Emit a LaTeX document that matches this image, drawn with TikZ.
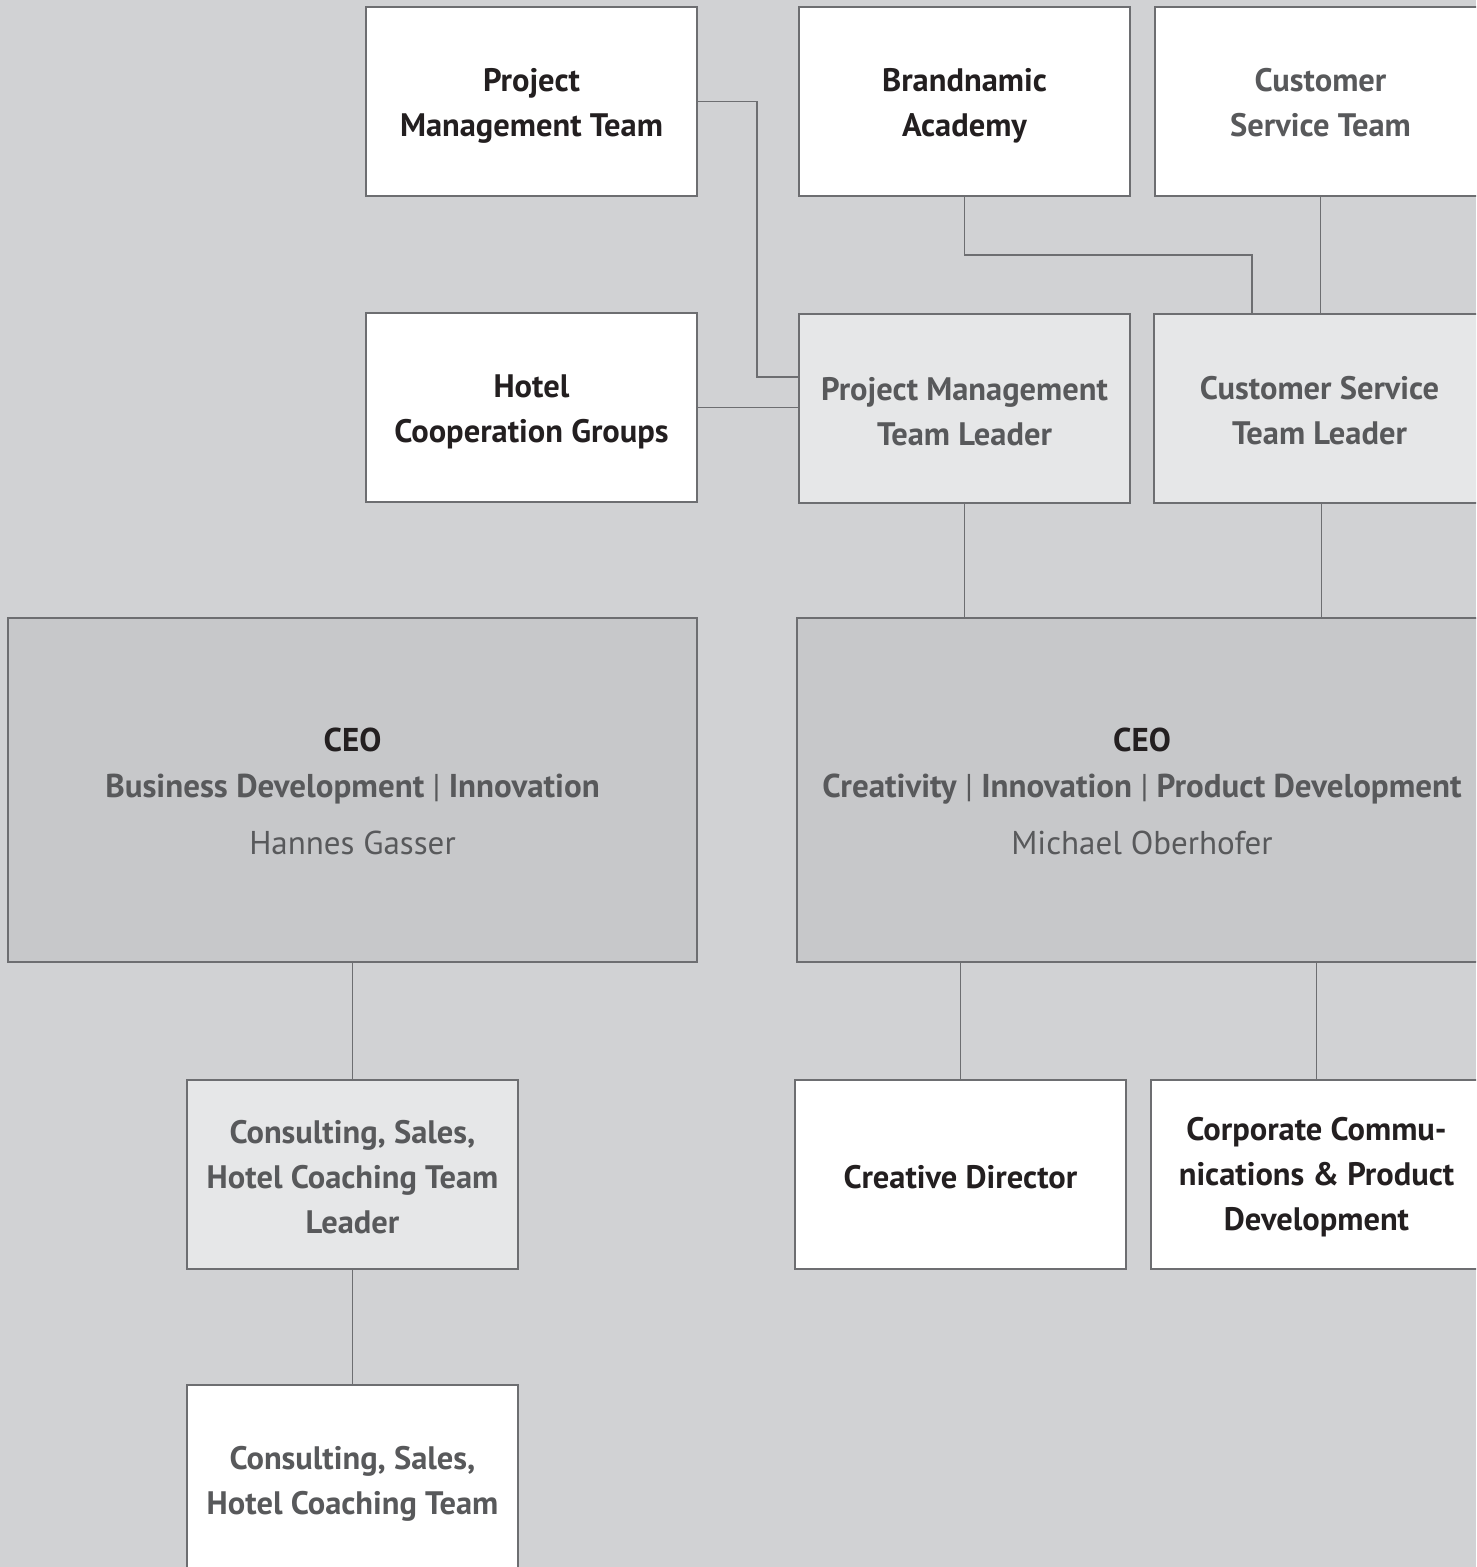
\documentclass[tikz,border=0pt]{standalone}
\usepackage{fontspec}
\setmainfont{PT Sans}
\usetikzlibrary{calc}
\definecolor{bgc}{HTML}{D1D2D4}
\definecolor{bordc}{HTML}{6D6E71}
\definecolor{lightc}{HTML}{E6E7E8}
\definecolor{darkc}{HTML}{C7C8CA}
\definecolor{greytxt}{HTML}{58595B}
\definecolor{blacktxt}{HTML}{231F20}
\begin{document}
\begin{tikzpicture}[x=1pt,y=-1pt,
  box/.style={draw=bordc, line width=2pt, minimum width=331pt, minimum height=189pt, inner sep=0pt},
  whitebox/.style={box, fill=white},
  leadbox/.style={box, fill=lightc},
  ceobox/.style={draw=bordc, line width=2pt, minimum width=689pt, minimum height=344pt,
    inner sep=0pt, fill=darkc},
  txt/.style={align=center, inner sep=0pt, font=\bfseries\fontsize{32.5}{45}\selectfont},
  blk/.style={txt, text=blacktxt},
  gry/.style={txt, text=greytxt},
  ceotxt/.style={align=center, inner sep=0pt, font=\fontsize{33}{46}\selectfont},
  conn/.style={draw=bordc, line width=1.5pt}]
\useasboundingbox (0,0) rectangle (1476,1567);
\clip (0,0) rectangle (1476,1567);
\fill[bgc] (0,0) rectangle (1476,1567);

% top row
\node[whitebox] (pmt) at (531.5,101.5) {};
\node[blk] (pmt-t) at ($(pmt.center)+(0,4)$) {Project\\Management Team};
\node[whitebox] (ba) at (964.5,101.5) {};
\node[blk] (ba-t) at ($(ba.center)+(0,4)$) {Brandnamic\\Academy};
\node[whitebox] (cst) at (1320.5,101.5) {};
\node[gry] (cst-t) at ($(cst.center)+(0,1.5)$) {Customer\\Service Team};

% second row
\node[whitebox] (hcg) at (531.5,407.5) {};
\node[blk] (hcg-t) at ($(hcg.center)+(0,4)$) {Hotel\\Cooperation Groups};
\node[leadbox] (pmtl) at (964.5,408.5) {};
\node[gry] (pmtl-t) at ($(pmtl.center)+(0,3)$) {Project Management\\Team Leader};
\node[leadbox] (cstl) at (1319.5,408.5) {};
\node[gry] (cstl-t) at ($(cstl.center)+(0,2)$) {Customer Service\\Team Leader};

% CEO row
\node[ceobox] (ceo1) at (352.5,790) {};
\node[ceotxt] (ceo1-t) at ($(ceo1.center)+(0,1)$) {{\bfseries\color{blacktxt}CEO}\\
  {\bfseries\color{greytxt}Business Development {\mdseries|} Innovation}\\[11pt]
  {\color{greytxt}Hannes Gasser}};
\node[ceobox, minimum width=690pt] (ceo2) at (1142,790) {};
\node[ceotxt] (ceo2-t) at ($(ceo2.center)+(0,1)$) {{\bfseries\color{blacktxt}CEO}\\
  {\bfseries\color{greytxt}Creativity {\mdseries|} Innovation {\mdseries|} Product Development}\\[11pt]
  {\color{greytxt}Michael Oberhofer}};

% lower row
\node[leadbox] (cstl2) at (352.5,1174) {};
\node[gry] (cstl2-t) at ($(cstl2.center)+(0,3)$) {Consulting, Sales,\\Hotel Coaching Team\\Leader};
\node[whitebox] (cd) at (960.5,1174.5) {};
\node[blk] (cd-t) at ($(cd.center)+(0,3)$) {Creative Director};
\node[whitebox] (ccp) at (1316.5,1174.5) {};
\node[blk] (ccp-t) at ($(ccp.center)+(0,3)$) {Corporate Commu-\\nications \& Product\\Development};
\node[whitebox] (cht) at (352.5,1479.5) {};
\node[gry] (cht-t) at ($(cht.center)+(0,4)$) {Consulting, Sales,\\Hotel Coaching Team};

% connectors
\coordinate (j1) at (757,377);
\draw[conn] (pmt.east) -| (j1) -- (j1 -| pmtl.west);
\draw[conn] (hcg.east) -- (hcg.east -| pmtl.west);
\coordinate (j2) at (1252,255);
\draw[conn] (ba.south) |- (j2) -- (j2 |- cstl.north);
\draw[conn] (cst.south) -- (cst.south |- cstl.north);
\draw[conn] (pmtl.south) -- (pmtl.south |- ceo2.north);
\path (cstl.south) ++(2,0) coordinate (j3);
\draw[conn] (j3) -- (j3 |- ceo2.north);
\draw[conn] (ceo1.south) -- (cstl2.north);
\draw[conn] (cd.north |- ceo2.south) -- (cd.north);
\draw[conn] (ccp.north |- ceo2.south) -- (ccp.north);
\draw[conn] (cstl2.south) -- (cht.north);
\end{tikzpicture}
\end{document}
